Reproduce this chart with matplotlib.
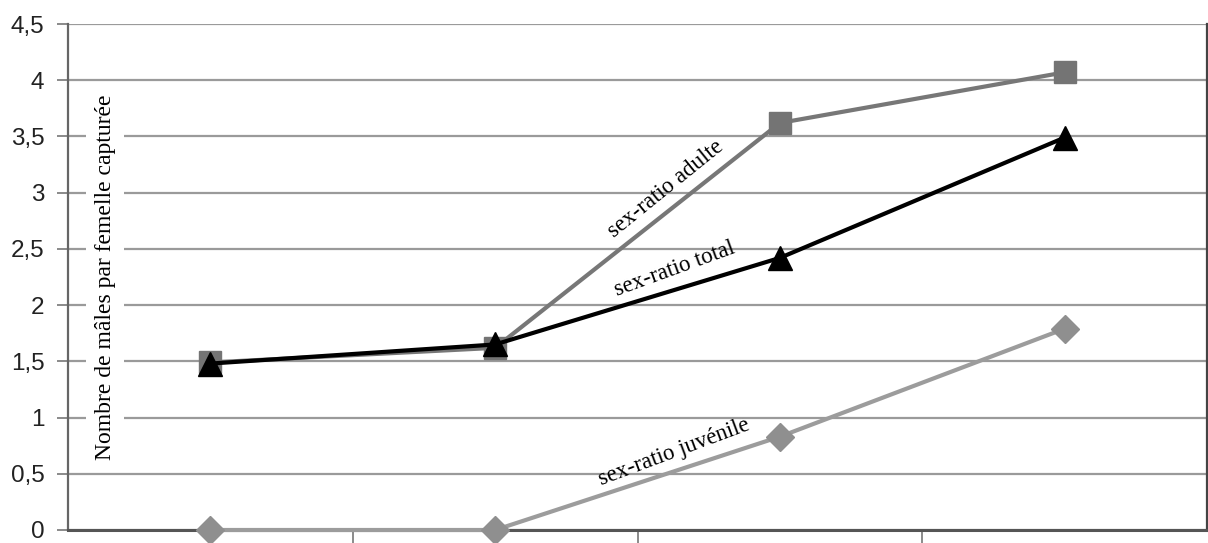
import numpy as np
import matplotlib.pyplot as plt

# values (males per captured female)
categories = [0, 1, 2, 3]
adulte = [1.49, 1.62, 3.62, 4.07]
total = [1.48, 1.65, 2.42, 3.49]
juvenile = [0.0, 0.0, 0.83, 1.79]
yticks = [0, 0.5, 1, 1.5, 2, 2.5, 3, 3.5, 4, 4.5]
ytick_labels = ['0', '0,5', '1', '1,5', '2', '2,5', '3', '3,5', '4', '4,5']

fig = plt.figure(figsize=(12.08, 5.43), dpi=100)
ax = fig.add_axes([68 / 1208, 13 / 543, (1207 - 68) / 1208, (530 - 24) / 543])

ax.set_xlim(-0.5, 3.5)
ax.set_ylim(0, 4.5)

# grid
ax.set_yticks(yticks)
ax.set_yticklabels(ytick_labels, fontsize=17.5, family='Liberation Sans', color='#222222')
ax.yaxis.grid(True, color='#9a9a9a', linewidth=1.6)
ax.set_axisbelow(True)
ax.tick_params(axis='y', length=8, width=1.2, color='#777777', pad=9)
ax.set_xticks([0.5, 1.5, 2.5])
ax.set_xticklabels([])
ax.tick_params(axis='x', length=9, width=1.2, color='#777777')

ax.spines['top'].set_visible(False)
ax.spines['left'].set_color('#666666')
ax.spines['left'].set_linewidth(1.6)
ax.spines['right'].set_color('#444444')
ax.spines['right'].set_linewidth(1.6)
ax.spines['bottom'].set_color('#555555')
ax.spines['bottom'].set_linewidth(2.2)

# series
ax.plot(categories, juvenile, color='#9c9c9c', lw=3, marker='D', ms=14,
        markerfacecolor='#8f8f8f', markeredgecolor='#8f8f8f', clip_on=False, zorder=3)
ax.plot(categories, adulte, color='#777777', lw=3, marker='s', ms=16,
        markerfacecolor='#747474', markeredgecolor='#747474', clip_on=False, zorder=4)
ax.plot(categories, total, color='#000000', lw=3, marker='^', ms=17,
        markerfacecolor='#000000', clip_on=False, zorder=5)

# labels on the lines
ax.text(1.60, 3.03, 'sex-ratio adulte', rotation=39, fontsize=16.5,
        family='Liberation Serif', ha='center', va='center')
ax.text(1.63, 2.32, 'sex-ratio total', rotation=20, fontsize=16.5,
        family='Liberation Serif', ha='center', va='center')
ax.text(1.63, 0.69, 'sex-ratio juvénile', rotation=20.5, fontsize=16.5,
        family='Liberation Serif', ha='center', va='center')

# y label drawn inside the plot area
ax.text(0.0325, 2.25, 'Nombre de mâles par femelle capturée', rotation=90,
        fontsize=17, family='Liberation Serif', ha='center', va='center',
        transform=ax.get_yaxis_transform(),
        bbox=dict(facecolor='white', edgecolor='none', pad=6), zorder=2)

fig.savefig('out.png', dpi=100)
